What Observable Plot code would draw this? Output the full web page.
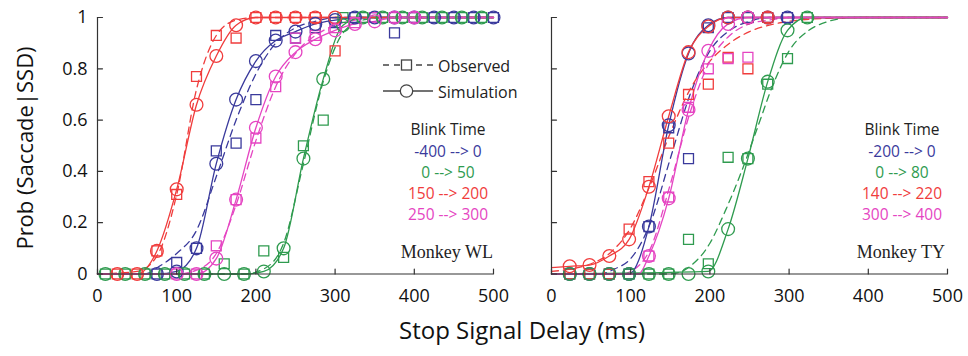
<!DOCTYPE html>
<html>
<head>
<meta charset="utf-8">
<script src="https://cdn.jsdelivr.net/npm/d3@7"></script>
<script src="https://cdn.jsdelivr.net/npm/@observablehq/plot@0.6"></script>
<style>
  html, body { margin: 0; padding: 0; background: #fff; }
  #wrap { position: relative; width: 968px; height: 356px; font-family: "Open Sans", sans-serif; }
  .ov { position: absolute; white-space: nowrap; line-height: 1; }
  .c { transform: translate(-50%, -50%); }
  .r { transform: translate(-100%, -50%); }
  .l { transform: translate(0, -50%); }
</style>
</head>
<body>
<div id="wrap"></div>
<script>
// ---------- categories, labels ----------
const panels = ["WL", "TY"];
const seriesNames = ["blink1", "blink2", "blink3", "blink4"];
const seriesColors = ["#3a3a9c", "#2f9b4f", "#f03c3c", "#e545c2"];
const xTicks = [0, 100, 200, 300, 400, 500];
const yTicks = [0, 0.2, 0.4, 0.6, 0.8, 1];
const blinkWL = ["-400 --> 0", "0 --> 50", "150 --> 200", "250 --> 300"];
const blinkTY = ["-200 --> 0", "0 --> 80", "140 --> 220", "300 --> 400"];
const monkeyLabels = ["Monkey WL", "Monkey TY"];

// ---------- Monkey WL ----------
const wlBlueSSD = [75,100,125,150,175,200,225,250,275,300,325,350,375,400,425,450,475,500];
const wlBlueObs = [0,0.045,0.10,0.48,0.51,0.68,0.93,0.92,0.96,0.98,1,1,0.94,1,1,1,1,1];
const wlBlueSim = [0,0.01,0.10,0.43,0.68,0.83,0.91,0.945,0.975,0.99,1,1,1,1,1,1,1,1];
const wlBlueObsFit = [[0,0],[60,0],[78,0.03],[100,0.08],[125,0.17],[150,0.38],[175,0.60],[200,0.78],[225,0.90],[250,0.96],[275,0.985],[300,1],[500,1]];
const wlBlueSimFit = [[0,0],[75,0],[100,0.01],[125,0.10],[150,0.43],[175,0.68],[200,0.83],[225,0.91],[250,0.945],[275,0.975],[300,0.99],[325,1],[500,1]];

const wlGreenSSD = [10,35,60,85,110,135,160,185,210,235,260,285,310,335,360,385,410,435,460,485];
const wlGreenObs = [0,0,0,0,0,0,0.04,0,0.09,0.065,0.50,0.60,1,1,1,1,1,1,1,1];
const wlGreenSim = [0,0,0,0,0,0,0,0,0.01,0.10,0.45,0.76,0.97,1,1,1,1,1,1,1];
const wlGreenObsFit = [[0,0],[185,0],[210,0.02],[235,0.12],[260,0.43],[285,0.75],[310,0.94],[335,0.99],[360,1],[500,1]];
const wlGreenSimFit = [[0,0],[185,0],[210,0.01],[235,0.10],[260,0.45],[285,0.76],[310,0.97],[335,1],[500,1]];

const wlRedSSD = [25,50,75,100,125,150,175,200,225,250,275,300];
const wlRedObs = [0,0,0.09,0.31,0.77,0.93,0.92,1,1,1,1,0.87];
const wlRedSim = [0,0,0.09,0.33,0.66,0.85,0.97,1,1,1,1,1];
const wlRedObsFit = [[0,0],[50,0.01],[75,0.07],[100,0.31],[125,0.72],[150,0.93],[175,0.99],[200,1],[500,1]];
const wlRedSimFit = [[0,0],[50,0],[75,0.09],[100,0.33],[125,0.66],[150,0.85],[175,0.97],[200,1],[500,1]];

const wlMagSSD = [100,125,150,175,200,225,250,275,300,325,350,375,400];
const wlMagObs = [0,0,0.11,0.29,0.53,0.73,0.92,0.93,0.96,0.98,1,1,1];
const wlMagSim = [0,0,0.06,0.29,0.57,0.77,0.865,0.915,0.95,0.975,0.985,1,1];
const wlMagObsFit = [[0,0],[100,0],[125,0.015],[150,0.08],[175,0.27],[200,0.52],[225,0.73],[250,0.86],[275,0.93],[300,0.97],[325,0.99],[350,1],[500,1]];
const wlMagSimFit = [[0,0],[125,0],[150,0.06],[175,0.29],[200,0.57],[225,0.77],[250,0.865],[275,0.915],[300,0.95],[325,0.975],[350,0.985],[375,1],[500,1]];

// ---------- Monkey TY ----------
const tyBlueSSD = [23,48,73,98,123,148,173,198,223,248,273,298];
const tyBlueObs = [0,0,0,0,0.185,0.57,0.45,0.96,1,1,1,1];
const tyBlueSim = [0,0,0,0,0.185,0.58,0.86,0.97,1,1,1,1];
const tyBlueObsFit = [[0,0],[60,0],[80,0.02],[100,0.06],[125,0.20],[150,0.45],[175,0.70],[200,0.87],[225,0.95],[250,0.985],[275,1],[500,1]];
const tyBlueSimFit = [[0,0],[98,0],[123,0.185],[148,0.58],[173,0.86],[198,0.97],[223,1],[500,1]];

const tyGreenSSD = [23,48,73,98,123,148,173,198,223,248,273,298,323];
const tyGreenObs = [0,0,0,0,0,0,0.135,0.04,0.455,0.45,0.74,0.84,1];
const tyGreenSim = [0,0,0,0,0,0,0,0.01,0.175,0.45,0.75,0.95,1];
const tyGreenObsFit = [[0,0],[150,0],[175,0.03],[200,0.12],[220,0.25],[240,0.40],[260,0.57],[280,0.74],[300,0.87],[325,0.95],[350,0.985],[380,1],[500,1]];
const tyGreenSimFit = [[0,0],[198,0.01],[223,0.175],[248,0.45],[273,0.75],[298,0.95],[323,1],[500,1]];

const tyRedSSD = [23,48,73,98,123,148,173,198,223,248,273];
const tyRedObs = [0,0,0,0.175,0.36,0.51,0.70,0.74,0.845,0.80,1];
const tyRedSim = [0.03,0.035,0.07,0.135,0.34,0.615,0.865,0.965,1,1,1];
const tyRedObsFit = [[0,0.01],[25,0.02],[50,0.04],[75,0.085],[100,0.18],[125,0.35],[150,0.55],[175,0.72],[200,0.83],[225,0.90],[250,0.945],[275,0.97],[300,0.985],[350,0.997],[400,1],[500,1]];
const tyRedSimFit = [[0,0.025],[23,0.03],[48,0.035],[73,0.07],[98,0.135],[123,0.34],[148,0.615],[173,0.865],[198,0.965],[223,1],[500,1]];

const tyMagSSD = [123,148,173,198,223,248];
const tyMagObs = [0.07,0.30,0.65,0.80,0.84,0.845];
const tyMagSim = [0.07,0.295,0.64,0.87,0.975,1];
const tyMagObsFit = [[0,0],[90,0],[100,0.01],[125,0.10],[150,0.35],[175,0.63],[200,0.83],[225,0.93],[250,0.975],[275,0.99],[300,1],[500,1]];
const tyMagSimFit = [[0,0],[110,0],[123,0.07],[148,0.295],[173,0.64],[198,0.87],[223,0.975],[248,1],[500,1]];

// ---------- build tables ----------
const [S1, S2, S3, S4] = seriesNames;
const pts = (panel, series, ssd, vals) => ssd.map((x, i) => ({panel, series, x, y: vals[i]}));
const fit = (panel, series, pairs) => pairs.map(([x, y]) => ({panel, series, x, y}));

const obs = [
  ...pts("WL",S1,wlBlueSSD,wlBlueObs), ...pts("WL",S2,wlGreenSSD,wlGreenObs),
  ...pts("WL",S3,wlRedSSD,wlRedObs), ...pts("WL",S4,wlMagSSD,wlMagObs),
  ...pts("TY",S1,tyBlueSSD,tyBlueObs), ...pts("TY",S2,tyGreenSSD,tyGreenObs),
  ...pts("TY",S3,tyRedSSD,tyRedObs), ...pts("TY",S4,tyMagSSD,tyMagObs)
];
const sim = [
  ...pts("WL",S1,wlBlueSSD,wlBlueSim), ...pts("WL",S2,wlGreenSSD,wlGreenSim),
  ...pts("WL",S3,wlRedSSD,wlRedSim), ...pts("WL",S4,wlMagSSD,wlMagSim),
  ...pts("TY",S1,tyBlueSSD,tyBlueSim), ...pts("TY",S2,tyGreenSSD,tyGreenSim),
  ...pts("TY",S3,tyRedSSD,tyRedSim), ...pts("TY",S4,tyMagSSD,tyMagSim)
];
const obsFit = [
  ...fit("WL",S1,wlBlueObsFit), ...fit("WL",S2,wlGreenObsFit),
  ...fit("WL",S3,wlRedObsFit), ...fit("WL",S4,wlMagObsFit),
  ...fit("TY",S1,tyBlueObsFit), ...fit("TY",S2,tyGreenObsFit),
  ...fit("TY",S3,tyRedObsFit), ...fit("TY",S4,tyMagObsFit)
];
const simFit = [
  ...fit("WL",S1,wlBlueSimFit), ...fit("WL",S2,wlGreenSimFit),
  ...fit("WL",S3,wlRedSimFit), ...fit("WL",S4,wlMagSimFit),
  ...fit("TY",S1,tyBlueSimFit), ...fit("TY",S2,tyGreenSimFit),
  ...fit("TY",S3,tyRedSimFit), ...fit("TY",S4,tyMagSimFit)
];

// inward tick shape (a plain line of the vector's length)
const tickShape = {draw(context, l) { context.moveTo(0, 0); context.lineTo(0, -l); }};

const chart = Plot.plot({
  width: 968,
  height: 356,
  marginLeft: 96,
  marginRight: 21,
  marginTop: 17,
  marginBottom: 82.5,
  style: {fontFamily: "'Open Sans', sans-serif", background: "transparent", color: "#111"},
  fx: {domain: panels, paddingInner: 0.128, paddingOuter: 0, axis: null, label: null},
  x: {domain: [0, 500], label: null},
  y: {domain: [0, 1], label: null},
  color: {type: "ordinal", domain: seriesNames, range: seriesColors},
  marks: [
    Plot.line(obsFit, {x: "x", y: "y", z: "series", stroke: "series", fx: "panel", curve: "monotone-x", strokeWidth: 1.3, strokeDasharray: "7,5"}),
    Plot.line(simFit, {x: "x", y: "y", z: "series", stroke: "series", fx: "panel", curve: "monotone-x", strokeWidth: 1.3}),
    Plot.dot(obs, {x: "x", y: "y", stroke: "series", fx: "panel", symbol: "square", r: 5.6, strokeWidth: 1.3, fill: "none"}),
    Plot.dot(sim, {x: "x", y: "y", stroke: "series", fx: "panel", symbol: "circle", r: 6.4, strokeWidth: 1.3, fill: "none"}),
    Plot.ruleY([0], {stroke: "#333", strokeWidth: 1.2}),
    Plot.ruleX([0], {stroke: "#333", strokeWidth: 1.2}),
    Plot.vector(xTicks, {x: d => d, y: () => 0, length: 5, rotate: 0, anchor: "start", shape: tickShape, stroke: "#333", strokeWidth: 1.2}),
    Plot.vector(yTicks, {x: () => 0, y: d => d, length: 5, rotate: 90, anchor: "start", shape: tickShape, stroke: "#333", strokeWidth: 1.2}),
    Plot.axisX(xTicks, {anchor: "bottom", tickSize: 0, tickPadding: 15, fontSize: 18, fill: "#111"}),
    Plot.axisY(yTicks, {anchor: "left", tickSize: 0, tickPadding: 10, fontSize: 18, fill: "#111", tickFormat: d => String(d)})
  ]
});

const wrap = document.getElementById("wrap");
wrap.appendChild(chart);

function ov(html, cls, left, top, style) {
  const d = document.createElement("div");
  d.className = "ov " + cls;
  d.style.left = left + "px";
  d.style.top = top + "px";
  Object.assign(d.style, style || {});
  d.innerHTML = html;
  wrap.appendChild(d);
  return d;
}

// axis titles
ov("Prob (Saccade|SSD)", "", 24, 148, {transform: "translate(-50%,-50%) rotate(-90deg)", fontSize: "22px", color: "#111"});
ov("Stop Signal Delay (ms)", "c", 522, 330, {fontSize: "24px", color: "#111"});

// legend (left panel)
ov('<svg width="50" height="16"><line x1="0" y1="8" x2="50" y2="8" stroke="#444" stroke-width="1.3" stroke-dasharray="6,5"/><rect x="18.5" y="3" width="10" height="10" fill="white" stroke="#444" stroke-width="1.3"/></svg>', "l", 383, 66);
ov("Observed", "l", 438, 66, {fontSize: "16px", color: "#222"});
ov('<svg width="50" height="16"><line x1="0" y1="8" x2="50" y2="8" stroke="#444" stroke-width="1.3"/><circle cx="23.5" cy="8" r="6.2" fill="white" stroke="#444" stroke-width="1.3"/></svg>', "l", 383, 92);
ov("Simulation", "l", 438, 92, {fontSize: "16px", color: "#222"});

// blink time blocks
const blockX = [448, 902];
const blockTexts = [blinkWL, blinkTY];
const rowsY = [152, 173, 194, 215];
blockX.forEach((bx, k) => {
  ov("Blink Time", "c", bx, 130, {fontSize: "15.5px", color: "#222"});
  blockTexts[k].forEach((t, i) => ov(t, "c", bx, rowsY[i], {fontSize: "15.5px", color: seriesColors[i]}));
});
// monkey labels
ov(monkeyLabels[0], "r", 493, 252, {fontFamily: "'Liberation Serif', serif", fontSize: "18px", color: "#222"});
ov(monkeyLabels[1], "r", 945, 252, {fontFamily: "'Liberation Serif', serif", fontSize: "18px", color: "#222"});
</script>
</body>
</html>
